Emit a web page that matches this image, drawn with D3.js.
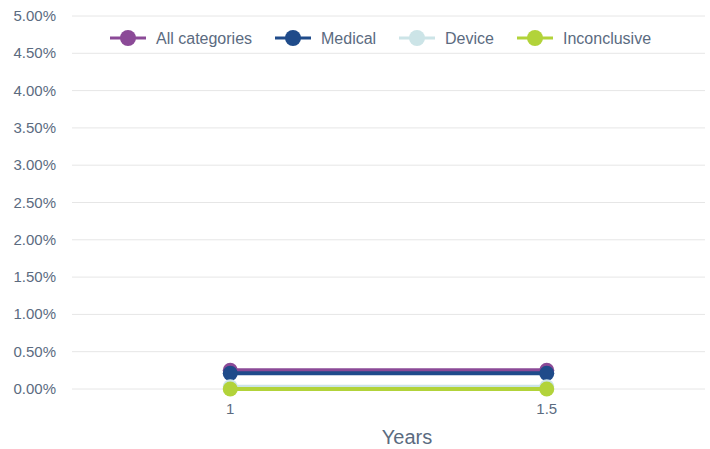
<!DOCTYPE html>
<html>
<head>
<meta charset="utf-8">
<script src="https://cdn.jsdelivr.net/npm/d3@7"></script>
<style>
  body { margin: 0; background: #fff; }
  text { font-family: "Liberation Sans", Arial, sans-serif; fill: #5b6b7f; }
</style>
</head>
<body>
<div id="chart"></div>
<script>
// Data
const years = [1, 1.5];
const seriesNames = ["All categories", "Medical", "Device", "Inconclusive"];
const allCategories = [0.25, 0.25];
const medical = [0.21, 0.21];
const device = [0.03, 0.03];
const inconclusive = [0.0, 0.0];
const yTicks = [0, 0.5, 1, 1.5, 2, 2.5, 3, 3.5, 4, 4.5, 5];

const colors = ["#8b4a97", "#1f4b8a", "#cce4e7", "#b2d33a"];
const values = [allCategories, medical, device, inconclusive];

const width = 710, height = 449;
const margin = { top: 16, right: 5, bottom: 60, left: 72 };

const svg = d3.select("#chart").append("svg")
  .attr("width", width)
  .attr("height", height);

const x = d3.scaleLinear()
  .domain([0.75, 1.75])
  .range([margin.left, width - margin.right]);

const y = d3.scaleLinear()
  .domain([0, 5])
  .range([height - margin.bottom, margin.top]);

// Gridlines
svg.append("g")
  .selectAll("line")
  .data(yTicks)
  .join("line")
  .attr("x1", margin.left)
  .attr("x2", width - margin.right)
  .attr("y1", d => y(d))
  .attr("y2", d => y(d))
  .attr("stroke", "#e6e6e6")
  .attr("stroke-width", 1);

// Y axis labels
svg.append("g")
  .selectAll("text")
  .data(yTicks)
  .join("text")
  .attr("x", 56)
  .attr("y", d => y(d) + 5)
  .attr("text-anchor", "end")
  .style("font-size", "15px")
  .text(d => d.toFixed(2) + "%");

// X axis labels
svg.append("g")
  .selectAll("text")
  .data(years)
  .join("text")
  .attr("x", d => x(d))
  .attr("y", 414)
  .attr("text-anchor", "middle")
  .style("font-size", "15px")
  .text(d => d);

svg.append("text")
  .attr("x", 407)
  .attr("y", 444)
  .attr("text-anchor", "middle")
  .style("font-size", "20px")
  .text("Years");

// Lines and dots
const line = d3.line()
  .x((d, i) => x(years[i]))
  .y(d => y(d));

values.forEach((vals, k) => {
  const g = svg.append("g");
  g.append("path")
    .datum(vals)
    .attr("d", line)
    .attr("fill", "none")
    .attr("stroke", colors[k])
    .attr("stroke-width", 4);
  g.selectAll("circle")
    .data(vals)
    .join("circle")
    .attr("cx", (d, i) => x(years[i]))
    .attr("cy", d => y(d))
    .attr("r", 7.5)
    .attr("fill", colors[k]);
});

// Legend
const legendX = [110, 275, 399, 517];
const legend = svg.append("g").attr("transform", "translate(0,38)");
seriesNames.forEach((name, i) => {
  const item = legend.append("g").attr("transform", `translate(${legendX[i]},0)`);
  item.append("line")
    .attr("x1", 0).attr("x2", 36)
    .attr("y1", 0).attr("y2", 0)
    .attr("stroke", colors[i])
    .attr("stroke-width", 3);
  item.append("circle")
    .attr("cx", 18).attr("cy", 0).attr("r", 8)
    .attr("fill", colors[i]);
  item.append("text")
    .attr("x", 46)
    .attr("y", 6)
    .style("font-size", "16px")
    .text(name);
});
</script>
</body>
</html>
